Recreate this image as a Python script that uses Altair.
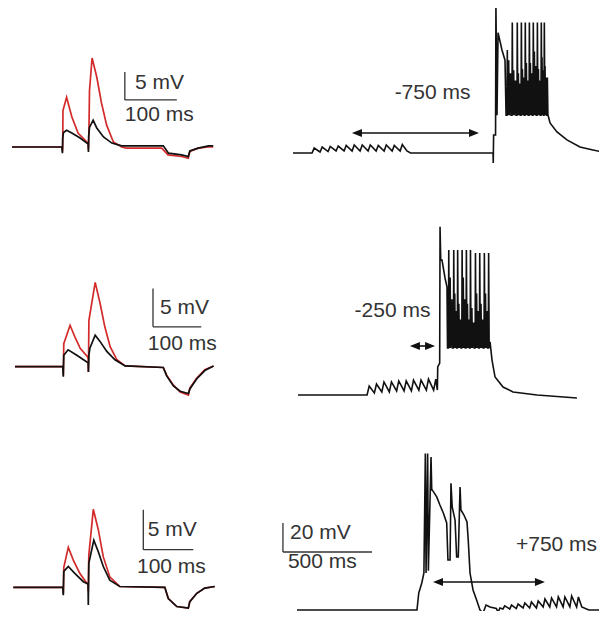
import altair as alt
import pandas as pd

# ---------------- data (time in ms, membrane potential in mV re. rest) -------------
# Left column: paired EPSP traces (red / black)
L1_RED_T = [0, 96, 97, 97.5, 98, 105, 115, 127, 144, 146.5, 147, 148, 149, 154, 163, 172, 182, 195, 211, 220, 288, 300, 326, 339, 342, 358, 377, 387]
L1_RED_V = [0, 0, -0.8, 0, 6.5, 8.9, 5.4, 2.5, 0.9, 0.6, -0.5, 3, 10, 15.9, 12.5, 7.9, 3.9, 0.9, 0, -0.2, -0.2, -1.4, -1.7, -2.0, -0.8, -0.2, 0, 0]
L1_BLK_T = [0, 96, 97, 97.5, 99, 105, 115, 131, 144, 146.5, 147, 147.5, 149, 156, 163, 176, 192, 211, 291, 301, 326, 339, 342, 358, 378, 387]
L1_BLK_V = [0, 0, -1.1, 1.5, 2.6, 3.0, 2.5, 1.6, 0.7, 0.5, -0.9, 2, 3.5, 4.8, 3.4, 1.8, 0.7, 0.2, 0.2, -1.1, -1.4, -1.7, -0.7, -0.2, 0.2, 0.2]

L2_RED_T = [0, 99, 100, 101, 114, 124, 135, 150, 151.5, 152, 153, 166, 176, 186, 197, 211, 228, 307, 314, 328, 342, 359, 362, 376, 393, 411]
L2_RED_V = [0, 0, -1.1, 3, 5.4, 3.9, 2.4, 1.3, 1.0, -0.7, 6, 11.0, 8.3, 5.2, 2.6, 0.9, 0.1, -0.1, -1.1, -2.4, -3.3, -3.7, -2.8, -1.5, -0.4, 0.1]
L2_BLK_T = [0, 99, 100, 101, 110, 128, 148, 151.5, 152, 153, 155, 166, 176, 190, 207, 228, 307, 314, 328, 342, 359, 362, 376, 393, 411]
L2_BLK_V = [0, 0, -1.3, 1.5, 2.2, 1.5, 0.65, 0.5, -0.7, 1.5, 2.4, 4.1, 3.3, 2.0, 0.9, 0.1, -0.1, -1.2, -2.5, -3.2, -3.5, -2.9, -1.6, -0.5, 0.1]

L3_RED_T = [0, 99, 100, 101, 110, 120, 133, 147, 149.5, 150, 151, 160, 170, 180, 193, 213, 303, 310, 327, 350, 353, 367, 383, 403]
L3_RED_V = [0, 0, -0.8, 2.5, 5.0, 3.4, 1.75, 0.5, 0.4, -0.5, 4, 9.75, 7.2, 3.8, 1.3, 0.1, 0, -1.4, -2.4, -2.6, -1.8, -0.75, -0.1, 0.1]
L3_BLK_T = [0, 99, 100, 101, 110, 123, 140, 149.5, 150, 151, 161, 170, 180, 193, 213, 303, 310, 327, 350, 353, 367, 383, 403]
L3_BLK_V = [0, 0, -1.0, 2.0, 2.6, 1.75, 0.7, 0.4, -2.2, 3, 5.9, 4.45, 2.6, 0.9, 0.1, 0, -1.4, -2.4, -2.6, -1.8, -0.75, -0.1, 0.1]

# Right column, row 1 (-750 ms)
R1_PRE_T = [0, 107]
R1_PRE_V = [0, 0]
R1_EPSP_ON = [107, 152, 197, 242, 287, 332, 377, 422, 467, 512, 557, 602]
R1_EPSP_PK = [3.4, 4.1, 4.5, 4.8, 5.2, 5.5, 5.5, 5.5, 5.2, 5.5, 5.2, 5.9]
R1_EPSP_TR = [0.7, 1.0, 1.4, 1.4, 1.4, 1.4, 1.4, 1.4, 1.4, 1.4, 1.4]
R1_MID_T = [640, 660, 1124, 1125, 1127, 1138, 1140, 1146, 1152, 1174, 1191, 1197]
R1_MID_V = [1.4, 0, 0, -6.9, 12.4, 12.4, 102, 26, 83, 71, 64, 26]
R1_SPK_T = [1202, 1230, 1258, 1281, 1303, 1326, 1348, 1371, 1393, 1410, 1427]
R1_SPK_PK = [71, 90, 90, 90, 90, 90, 90, 90, 90, 90, 52]
R1_SPK_MID_A = [64, 57, 55, 58, 62, 62, 70, 58, 66, 60]
R1_SPK_MID_B = [55, 50, 48, 52, 50, 55, 60, 50, 57, 52]
R1_FLOOR = 26
R1_POST_T = [1433, 1444, 1483, 1539, 1612, 1685, 1764]
R1_POST_V = [26, 20.7, 14.5, 9.0, 4.1, 2.1, 0]

# Right column, row 2 (-250 ms)
R2_PRE_T = [0, 388]
R2_PRE_V = [0, 0]
R2_EPSP_ON = [388, 429, 471, 513, 554, 596, 637, 679, 721, 762]
R2_EPSP_PK = [6.2, 7.6, 9.0, 9.0, 9.7, 9.7, 10.3, 10.3, 11.0, 11.0]
R2_EPSP_TR = [1.4, 2.1, 2.1, 2.8, 2.8, 2.8, 3.4, 3.4, 3.4]
R2_MID_T = [783, 785, 796, 798, 802, 809, 826, 837, 840]
R2_MID_V = [3.4, 19.3, 22, 116, 93, 93, 80.7, 74.5, 32.4]
R2_SPK_T = [845, 873, 895, 920, 944, 967, 995, 1019, 1045, 1069]
R2_SPK_PK = [100, 100, 100, 100, 100, 100, 98, 98, 98, 98]
R2_SPK_MID_A = [81, 70, 63, 81, 63, 60, 70, 63, 70]
R2_SPK_MID_B = [66, 58, 52, 66, 52, 50, 58, 52, 58]
R2_FLOOR = 32.4
R2_POST_T = [1079, 1090, 1107, 1152, 1208, 1343, 1567]
R2_POST_V = [36.6, 24.1, 12.4, 5.5, 2.1, 0, -2.1]

# Right column, row 3 (+750 ms)
R3_PRE_T = [0, 674, 684, 701, 713, 721, 725, 734, 738, 753, 757, 760, 785, 803, 822, 841, 848, 860, 865, 872, 888, 897, 906, 916, 921, 938, 955, 962, 972, 989, 1009, 1028, 1045, 1062, 1084, 1120, 1130, 1140, 1157]
R3_PRE_V = [0, 0, 11.7, 18.6, 25.5, 108, 25.5, 108, 27, 105.5, 82.8, 82.8, 78, 72.4, 66.9, 60, 34.5, 34.5, 87.4, 71, 62, 36.6, 36.6, 84.8, 69, 65.5, 60.7, 48.3, 25.5, 13.8, 6.9, 0, -2.1, 3.4, 2.1, 1.0, -1.5, 1.4, 0.7]
R3_EPSP_ON = [1157, 1195, 1232, 1270, 1307, 1345, 1383, 1420, 1458, 1495, 1533, 1571]
R3_EPSP_PK = [2.8, 3.4, 4.1, 4.8, 5.5, 6.2, 7.6, 8.3, 9.0, 9.0, 9.7, 9.0]
R3_EPSP_TR = [0.7, 1.0, 1.4, 1.4, 1.4, 2.1, 2.1, 2.1, 2.1, 2.1, 2.1]
R3_POST_T = [1600, 1620, 1640, 1742]
R3_POST_V = [2.1, 1.0, 0, 0]

# annotation labels
LABEL_L_MV = "5 mV"
LABEL_L_MS = "100 ms"
LABEL_R_MV = "20 mV"
LABEL_R_MS = "500 ms"
DELAYS = ["-750 ms", "-250 ms", "+750 ms"]

# ---------------- helpers ----------------
RED = "#d32b2b"
BLK = "#111111"
TXT = "#333333"
FONT = "Liberation Sans"
FS = 21
ARROW_PATH = "M1,0L-1,-0.8L-1,0.8Z"
ARROW_PATH_L = "M-1,0L1,-0.8L1,0.8Z"


def pts(ts, vs):
    return list(zip(ts, vs))


def epsp_train(onsets, peaks, troughs, rise):
    out = []
    for i, (t0, pk) in enumerate(zip(onsets, peaks)):
        if i > 0:
            out.append((t0, troughs[i - 1]))
        out.append((t0 + rise, pk))
    return out


def burst(times, peaks, mids_a, mids_b, floor):
    out = []
    for i, (t0, pk) in enumerate(zip(times, peaks)):
        out += [(t0, floor), (t0 + 2, pk), (t0 + 5, floor)]
        if i < len(mids_a):
            t1 = times[i + 1]
            gap = t1 - t0
            out += [(t0 + gap * 0.35, mids_a[i]), (t0 + gap * 0.35 + 3, floor),
                    (t0 + gap * 0.7, mids_b[i]), (t0 + gap * 0.7 + 3, floor)]
    return out


def panel(box, origin, sx, sy, traces, rules, texts, arrows):
    bx0, by0, bx1, by1 = box
    ox, oy = origin
    xs = alt.Scale(domain=[(bx0 - ox) / sx, (bx1 - ox) / sx], nice=False, zero=False)
    ys = alt.Scale(domain=[(oy - by1) / sy, (oy - by0) / sy], nice=False, zero=False)
    X = lambda f: alt.X(f, type="quantitative", scale=xs, axis=None)
    Y = lambda f: alt.Y(f, type="quantitative", scale=ys, axis=None)
    layers = []
    for p, color, w in traces:
        df = pd.DataFrame(p, columns=["t", "v"])
        df["i"] = range(len(df))
        layers.append(
            alt.Chart(df).mark_line(color=color, strokeWidth=w, clip=True)
            .encode(x=X("t"), y=Y("v"), order=alt.Order("i:Q"))
        )
    if rules:
        rdf = pd.DataFrame(rules, columns=["t", "t2", "v", "v2"])
        layers.append(
            alt.Chart(rdf).mark_rule(color=TXT, strokeWidth=1.3)
            .encode(x=X("t"), x2="t2", y=Y("v"), y2="v2")
        )
    for (t, v, label, align) in texts:
        tdf = pd.DataFrame({"t": [t], "v": [v], "label": [label]})
        layers.append(
            alt.Chart(tdf).mark_text(align=align, baseline="middle", fontSize=FS, font=FONT, color=TXT)
            .encode(x=X("t"), y=Y("v"), text="label:N")
        )
    for (t1, t2, v) in arrows:
        off = 5 / sx
        adf = pd.DataFrame({"t": [t1 + off], "t2": [t2 - off], "v": [v]})
        layers.append(
            alt.Chart(adf).mark_rule(color=BLK, strokeWidth=1.6)
            .encode(x=X("t"), x2="t2", y=Y("v"))
        )
        hdf = pd.DataFrame({"t": [t1 + off], "v": [v]})
        layers.append(
            alt.Chart(hdf).mark_point(shape=ARROW_PATH_L, size=100, filled=True, color=BLK, opacity=1, strokeWidth=0)
            .encode(x=X("t"), y=Y("v"))
        )
        hdf2 = pd.DataFrame({"t": [t2 - off], "v": [v]})
        layers.append(
            alt.Chart(hdf2).mark_point(shape=ARROW_PATH, size=100, filled=True, color=BLK, opacity=1, strokeWidth=0)
            .encode(x=X("t"), y=Y("v"))
        )
    return alt.layer(*layers).properties(width=bx1 - bx0, height=by1 - by0)


# page layout (pixels)
COLS = [(8, 280), (280, 599)]
ROWS = [(8, 203), (203, 420), (420, 611)]
RSX, RSY = 0.178, 1.45

# ---- left panels ----
def left(row, origin, sx, sy, red, blk, bar_t, bar_v, mv_pos, ms_pos):
    box = (COLS[0][0], ROWS[row][0], COLS[0][1], ROWS[row][1])
    rules = [(bar_t, bar_t, bar_v, bar_v + 5), (bar_t, bar_t + 100, bar_v, bar_v)]
    texts = [(mv_pos[0], mv_pos[1], LABEL_L_MV, "left"), (ms_pos[0], ms_pos[1], LABEL_L_MS, "left")]
    return panel(box, origin, sx, sy, [(red, RED, 1.7), (blk, BLK, 1.7)], rules, texts, [])

P_L1 = left(0, (12, 147), 0.52, 5.6, pts(L1_RED_T, L1_RED_V), pts(L1_BLK_T, L1_BLK_V), 217, 8.4, (236.5, 11.5), (217, 5.8))
P_L2 = left(1, (15, 366.7), 0.483, 7.67, pts(L2_RED_T, L2_RED_V), pts(L2_BLK_T, L2_BLK_V), 285.7, 5.2, (300, 7.7), (275, 2.9))
P_L3 = left(2, (13.3, 587.3), 0.5, 8.0, pts(L3_RED_T, L3_RED_V), pts(L3_BLK_T, L3_BLK_V), 260, 4.7, (269, 7.2), (247.4, 2.5))

# ---- right panels ----
r1 = (pts(R1_PRE_T, R1_PRE_V) + epsp_train(R1_EPSP_ON, R1_EPSP_PK, R1_EPSP_TR, 12)
      + pts(R1_MID_T, R1_MID_V) + burst(R1_SPK_T, R1_SPK_PK, R1_SPK_MID_A, R1_SPK_MID_B, R1_FLOOR)
      + pts(R1_POST_T, R1_POST_V))
r2 = (pts(R2_PRE_T, R2_PRE_V) + epsp_train(R2_EPSP_ON, R2_EPSP_PK, R2_EPSP_TR, 12)
      + pts(R2_MID_T, R2_MID_V) + burst(R2_SPK_T, R2_SPK_PK, R2_SPK_MID_A, R2_SPK_MID_B, R2_FLOOR)
      + pts(R2_POST_T, R2_POST_V))
r3 = (pts(R3_PRE_T, R3_PRE_V) + epsp_train(R3_EPSP_ON, R3_EPSP_PK, R3_EPSP_TR, 10)
      + pts(R3_POST_T, R3_POST_V))

def rbox(row):
    return (COLS[1][0], ROWS[row][0], COLS[1][1], ROWS[row][1])

P_R1 = panel(rbox(0), (293, 153), RSX, RSY, [(r1, BLK, 1.6)], [],
             [(784, 41.7, DELAYS[0], "center")], [(331, 1045, 13.8)])
P_R2 = panel(rbox(1), (298, 395), RSX, RSY, [(r2, BLK, 1.6)], [],
             [(531, 57.9, DELAYS[1], "center")], [(629, 770, 33.8)])
P_R3 = panel(rbox(2), (297, 610), RSX, RSY, [(r3, BLK, 1.6)],
             [(-79, -79, 40, 60), (-79, 421, 40, 40)],
             [(1458, 44.8, DELAYS[2], "center"), (-39, 53, LABEL_R_MV, "left"), (-51, 33, LABEL_R_MS, "left")],
             [(764, 1393, 19.3)])

chart = alt.concat(
    P_L1, P_R1, P_L2, P_R2, P_L3, P_R3,
    columns=2, spacing=0,
).properties(padding=0).configure_view(strokeWidth=0, stroke=None)

chart.save("out.html", embed_options={"renderer": "svg", "actions": False})
